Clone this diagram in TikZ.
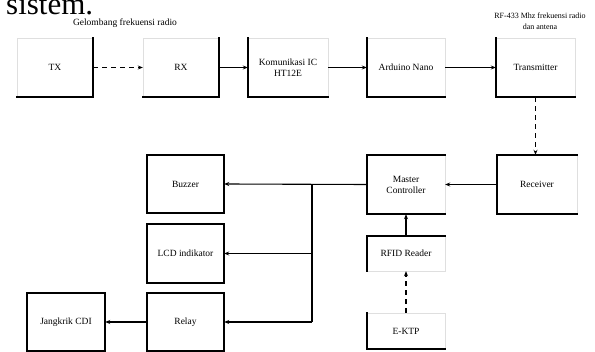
\documentclass[tikz,border=0pt]{standalone}
\usepackage{fontspec}
\setmainfont{Liberation Serif}
\usetikzlibrary{arrows.meta}
\tikzset{
  box/.style={draw=gray!25, line width=0.4pt, inner sep=1pt, align=center,
    font=\fontsize{9.5}{11}\selectfont},
  edge/.style={line width=1.8pt, line cap=rect},
  conn/.style={line width=1.1pt},
  arr/.style={conn, -{Stealth[length=5pt,width=4pt]}},
  darr/.style={arr, dash pattern=on 5pt off 4pt},
  lbl/.style={inner sep=0, align=center, font=\fontsize{8}{11}\selectfont},
}
\begin{document}
\begin{tikzpicture}[x=1pt,y=-1pt]
\clip (0,0) rectangle (595,352);
\fill[white] (0,0) rectangle (595,352);
\node[anchor=base west, inner sep=0, font=\fontsize{31}{31}\selectfont] (sis) at (6,15) {sistem.};

% top row
\node[box, minimum width=76pt, minimum height=59pt] (tx) at (55,67.5) {TX};
\node[box, minimum width=76pt, minimum height=59pt] (rx) at (181,67.5) {RX};
\node[box, minimum width=80pt, minimum height=59pt] (kic) at (288,67.5) {Komunikasi IC\\HT12E};
\node[box, minimum width=78pt, minimum height=59pt] (ard) at (406,67.5) {Arduino Nano};
\node[box, minimum width=79pt, minimum height=59pt] (trm) at (535.5,67.5) {Transmitter};
\node[lbl, font=\fontsize{9.5}{11}\selectfont] (l1) at (125,23) {Gelombang frekuensi radio};
\node[lbl] (l2) at (540,21) {RF-433 Mhz frekuensi radio\\dan antena};

% right side
\node[box, minimum width=80pt, minimum height=59pt] (rcv) at (537,184.5) {Receiver};
\node[box, minimum width=78pt, minimum height=59pt] (mc) at (406,184.5) {Master\\Controller};
\node[box, minimum width=78pt, minimum height=35pt] (rfid) at (406,253.5) {RFID Reader};
\node[box, minimum width=78pt, minimum height=36pt] (ektp) at (406,331) {E-KTP};

% left side
\node[box, minimum width=77pt, minimum height=58pt] (bz) at (185.5,184) {Buzzer};
\node[box, minimum width=77pt, minimum height=59pt] (lcd) at (185.5,253.5) {LCD indikator};
\node[box, minimum width=77pt, minimum height=58pt] (rl) at (185.5,322) {Relay};
\node[box, minimum width=78pt, minimum height=58pt] (jk) at (66,322) {Jangkrik CDI};

% visible heavy edges
\draw[edge] (tx.north east) -- (tx.south east) -- (tx.south west);
\draw[edge] (rx.north east) -- (rx.south east) -- (rx.south west);
\draw[edge] (kic.north west) -- (kic.south west) -- (kic.south east);
\draw[edge] (ard.north west) -- (ard.south west) -- (ard.south east);
\draw[edge] (trm.north west) -- (trm.south west) -- (trm.south east);
\draw[edge] (rcv.north east) -- (rcv.north west) -- (rcv.south west) -- (rcv.south east);
\draw[edge] (mc.north east) -- (mc.north west) -- (mc.south west) -- (mc.south east);
\draw[edge] (rfid.north east) -- (rfid.north west) -- (rfid.south west);
\draw[edge] (ektp.north west) -- (ektp.south west) -- (ektp.south east);
\foreach \n in {bz,lcd,rl,jk} \draw[edge] (\n.north west) rectangle (\n.south east);

% connectors
\draw[darr] (tx.east) -- (rx.west);
\draw[arr] (rx.east) -- (kic.west);
\draw[arr] (kic.east) -- (ard.west);
\draw[arr] (ard.east) -- (trm.west);
\draw[darr] (trm.south) -- (trm.south |- rcv.north);
\draw[arr] (rcv.west) -- (mc.east);
\draw[arr] (rfid.north) -- (mc.south);
\draw[darr] (ektp.north) -- (rfid.south);
\coordinate (bus) at (312,0);
\draw[arr] (mc.west) -- (bz.east);
\draw[conn] (bus |- mc.west) -- (bus |- rl.east);
\draw[arr] (bus |- lcd.east) -- (lcd.east);
\draw[arr] (bus |- rl.east) -- (rl.east);
\draw[arr] (rl.west) -- (jk.east);
\end{tikzpicture}
\end{document}
